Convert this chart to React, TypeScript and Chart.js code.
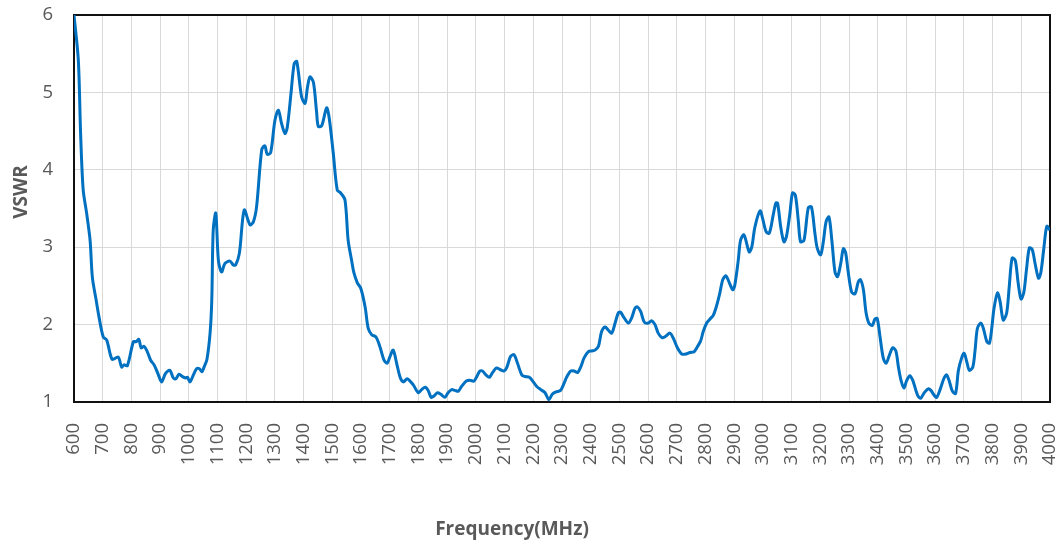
import React, { useEffect, useRef } from "react";
import { Chart, registerables } from "chart.js";

Chart.register(...registerables);

const freqMHz = [
  600, 615, 623, 632, 644, 656, 664, 677, 687, 702, 714, 733, 754, 766, 774, 786,
  807, 817, 826, 834, 844, 853, 867, 879, 892, 905, 919, 934, 946, 955, 966, 977,
  988, 995, 1004, 1016, 1027, 1037, 1046, 1053, 1063, 1074, 1080, 1085, 1094, 1103,
  1114, 1126, 1143, 1155, 1163, 1176, 1193, 1213, 1225, 1236, 1254, 1265, 1273, 1285,
  1300, 1312, 1323, 1335, 1343, 1356, 1367, 1376, 1393, 1405, 1413, 1422, 1434, 1445,
  1451, 1463, 1480, 1489, 1503, 1517, 1529, 1544, 1555, 1567, 1575, 1587, 1599, 1614,
  1625, 1637, 1652, 1666, 1680, 1691, 1700, 1712, 1724, 1736, 1747, 1761, 1773, 1784,
  1799, 1811, 1824, 1835, 1844, 1855, 1866, 1878, 1892, 1903, 1916, 1927, 1939, 1950,
  1966, 1979, 1993, 2002, 2014, 2023, 2035, 2047, 2058, 2072, 2084, 2098, 2107, 2121,
  2133, 2145, 2160, 2171, 2186, 2200, 2212, 2226, 2241, 2254, 2266, 2279, 2295, 2307,
  2316, 2330, 2342, 2354, 2365, 2377, 2392, 2404, 2415, 2427, 2438, 2450, 2461, 2473,
  2485, 2496, 2504, 2516, 2531, 2543, 2554, 2562, 2574, 2587, 2601, 2612, 2624, 2635,
  2649, 2661, 2676, 2687, 2702, 2717, 2732, 2746, 2760, 2771, 2783, 2792, 2804, 2815,
  2827, 2839, 2850, 2860, 2871, 2883, 2895, 2902, 2914, 2922, 2934, 2952, 2961, 2972,
  2990, 2999, 3011, 3022, 3036, 3045, 3051, 3062, 3073, 3082, 3094, 3103, 3113, 3123,
  3131, 3143, 3158, 3169, 3181, 3189, 3201, 3210, 3220, 3230, 3240, 3251, 3260, 3271,
  3280, 3288, 3297, 3309, 3321, 3332, 3340, 3350, 3359, 3369, 3381, 3390, 3398, 3408,
  3419, 3429, 3440, 3452, 3463, 3472, 3481, 3491, 3501, 3512, 3522, 3532, 3541, 3550,
  3562, 3576, 3585, 3596, 3605, 3617, 3631, 3640, 3650, 3660, 3671, 3681, 3693, 3701,
  3710, 3719, 3731, 3739, 3747, 3759, 3768, 3780, 3789, 3797, 3805, 3817, 3826, 3837,
  3849, 3858, 3868, 3879, 3889, 3899, 3909, 3918, 3928, 3938, 3948, 3960, 3968, 3979,
  3989, 4000,
];

const vswr = [
  6.0, 5.42, 4.47, 3.74, 3.44, 3.09, 2.61, 2.32, 2.1, 1.84, 1.8, 1.55, 1.58, 1.45, 1.48, 1.47,
  1.78, 1.78, 1.81, 1.7, 1.72, 1.67, 1.54, 1.48, 1.37, 1.26, 1.37, 1.41, 1.31, 1.3, 1.36, 1.33,
  1.31, 1.32, 1.26, 1.35, 1.43, 1.43, 1.39, 1.45, 1.55, 1.89, 2.32, 3.22, 3.44, 2.83,
  2.68, 2.79, 2.82, 2.77, 2.77, 2.92, 3.48, 3.29, 3.33, 3.52, 4.26, 4.31, 4.2, 4.22,
  4.64, 4.77, 4.6, 4.47, 4.55, 4.99, 5.37, 5.4, 4.94, 4.86, 5.06, 5.2, 5.13, 4.75,
  4.56, 4.57, 4.8, 4.67, 4.22, 3.74, 3.7, 3.61, 3.09, 2.83, 2.67, 2.54, 2.47, 2.23,
  1.95, 1.87, 1.84, 1.71, 1.54, 1.5, 1.58, 1.67, 1.5, 1.32, 1.26, 1.3, 1.26, 1.21,
  1.12, 1.16, 1.19, 1.14, 1.06, 1.08, 1.12, 1.1, 1.06, 1.12, 1.16, 1.15, 1.14, 1.2,
  1.27, 1.28, 1.27, 1.32, 1.4, 1.4, 1.35, 1.32, 1.38, 1.44, 1.42, 1.4, 1.44, 1.59,
  1.61, 1.5, 1.35, 1.33, 1.32, 1.26, 1.2, 1.16, 1.12, 1.03, 1.1, 1.13, 1.15, 1.24,
  1.32, 1.4, 1.4, 1.38, 1.45, 1.57, 1.65, 1.66, 1.67, 1.72, 1.91, 1.97, 1.93, 1.89,
  2.02, 2.15, 2.16, 2.09, 2.02, 2.09, 2.21, 2.23, 2.17, 2.03, 2.02, 2.05, 2.0, 1.89,
  1.83, 1.85, 1.89, 1.83, 1.7, 1.62, 1.62, 1.64, 1.65, 1.71, 1.79, 1.91, 2.02, 2.07,
  2.12, 2.25, 2.41, 2.58, 2.63, 2.54, 2.45, 2.51, 2.83, 3.09, 3.16, 2.94, 3.0, 3.26,
  3.47, 3.37, 3.2, 3.18, 3.42, 3.57, 3.57, 3.26, 3.07, 3.14, 3.44, 3.7, 3.67, 3.35,
  3.07, 3.09, 3.51, 3.52, 3.18, 2.99, 2.9, 3.06, 3.33, 3.39, 3.09, 2.68, 2.62, 2.79,
  2.98, 2.93, 2.68, 2.42, 2.4, 2.55, 2.58, 2.45, 2.16, 2.02, 1.99, 2.07, 2.08, 1.84,
  1.57, 1.5, 1.6, 1.7, 1.66, 1.45, 1.28, 1.18, 1.28, 1.34, 1.28, 1.16, 1.07, 1.05,
  1.12, 1.17, 1.15, 1.09, 1.06, 1.16, 1.31, 1.35, 1.26, 1.14, 1.11, 1.41, 1.58, 1.63,
  1.52, 1.41, 1.45, 1.67, 1.95, 2.02, 1.95, 1.78, 1.76, 1.95, 2.21, 2.41, 2.3, 2.06,
  2.15, 2.49, 2.86, 2.83, 2.54, 2.33, 2.42, 2.71, 2.99, 2.97, 2.79, 2.6, 2.67, 3.0,
  3.27, 3.22,
];

const xTickValues = [
  600, 700, 800, 900, 1000, 1100, 1200, 1300, 1400, 1500, 1600, 1700, 1800, 1900,
  2000, 2100, 2200, 2300, 2400, 2500, 2600, 2700, 2800, 2900, 3000, 3100, 3200,
  3300, 3400, 3500, 3600, 3700, 3800, 3900, 4000,
];
const yTickValues = [1, 2, 3, 4, 5, 6];

const xTitle = "Frequency(MHz)";
const yTitle = "VSWR";

const FONT = "'Open Sans', 'Liberation Sans', sans-serif";
const TEXT_COLOR = "#595959";

export default function App() {
  const ref = useRef<HTMLCanvasElement>(null);

  useEffect(() => {
    const canvas = ref.current;
    if (!canvas) return;

    const framePlugin = {
      id: "frame",
      beforeDatasetsDraw(chart: any) {
        const { ctx, chartArea: a } = chart;
        ctx.save();
        ctx.strokeStyle = "#111111";
        ctx.lineWidth = 2;
        ctx.strokeRect(a.left, a.top, a.right - a.left, a.bottom - a.top);
        ctx.restore();
      },
    };

    const titlesPlugin = {
      id: "axisTitles",
      afterDraw(chart: any) {
        const { ctx } = chart;
        ctx.save();
        ctx.fillStyle = TEXT_COLOR;
        ctx.font = `bold 19px ${FONT}`;
        ctx.textAlign = "center";
        ctx.textBaseline = "alphabetic";
        ctx.fillText(xTitle, 512, 535);
        ctx.translate(27, 192);
        ctx.rotate(-Math.PI / 2);
        ctx.fillText(yTitle, 0, 0);
        ctx.restore();
      },
    };

    const chart = new Chart(canvas, {
      type: "line",
      data: {
        datasets: [
          {
            data: freqMHz.map((f, i) => ({ x: f, y: vswr[i] })),
            borderColor: "#0070C0",
            backgroundColor: "#0070C0",
            borderWidth: 3,
            pointRadius: 0,
            tension: 0.3,
            fill: false,
          },
        ],
      },
      options: {
        animation: false,
        responsive: false,
        maintainAspectRatio: false,
        layout: { padding: { top: 15, right: 12, bottom: 0, left: 0 } },
        plugins: {
          legend: { display: false },
          tooltip: { enabled: false },
        },
        scales: {
          x: {
            type: "linear",
            min: 600,
            max: 4000,
            afterBuildTicks: (s: any) => {
              s.ticks = xTickValues.map((v) => ({ value: v }));
            },
            afterFit: (s: any) => {
              s.height = 140;
              s.paddingLeft = 0;
              s.paddingRight = 0;
            },
            ticks: {
              autoSkip: false,
              maxRotation: 90,
              minRotation: 90,
              padding: 21,
              color: TEXT_COLOR,
              font: { family: FONT, size: 18.5 },
              callback: (v: any) => String(v),
            },
            grid: { color: "#d9d9d9", lineWidth: 1, drawTicks: false },
            border: { display: false },
          },
          y: {
            type: "linear",
            min: 1,
            max: 6,
            afterBuildTicks: (s: any) => {
              s.ticks = yTickValues.map((v) => ({ value: v }));
            },
            afterFit: (s: any) => {
              s.width = 74;
              s.paddingTop = 0;
              s.paddingBottom = 0;
            },
            ticks: {
              padding: 21,
              color: TEXT_COLOR,
              font: { family: FONT, size: 18.5 },
              callback: (v: any) => String(v),
            },
            grid: { color: "#d9d9d9", lineWidth: 1, drawTicks: false },
            border: { display: false },
          },
        },
      },
      plugins: [framePlugin, titlesPlugin],
    });

    return () => chart.destroy();
  }, []);

  return (
    <div
      style={{
        position: "absolute",
        left: 0,
        top: 0,
        width: 1062,
        height: 542,
        background: "#ffffff",
      }}
    >
      <canvas ref={ref} width={1062} height={542} style={{ display: "block" }} />
    </div>
  );
}
